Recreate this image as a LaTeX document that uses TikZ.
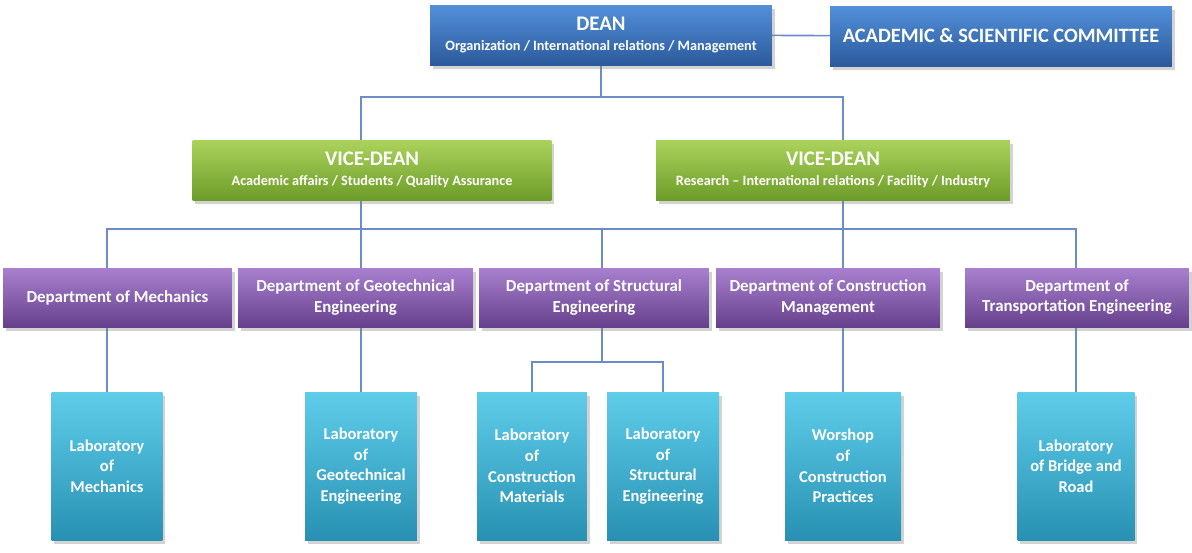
\documentclass[tikz,border=0pt]{standalone}
\usepackage{fontspec}
\setmainfont{Carlito}
\usetikzlibrary{shadows,backgrounds}

\definecolor{deantop}{HTML}{5290DA}
\definecolor{deanmid}{HTML}{3B73C0}
\definecolor{deanbot}{HTML}{2C5A9C}
\definecolor{vicetop}{HTML}{ABD35C}
\definecolor{vicemid}{HTML}{8DBF3B}
\definecolor{vicebot}{HTML}{6C9C28}
\definecolor{deptop}{HTML}{A880CF}
\definecolor{depmid}{HTML}{8B5FB6}
\definecolor{depbot}{HTML}{66408D}
\definecolor{labtop}{HTML}{5FCDEA}
\definecolor{labmid}{HTML}{3BB4DA}
\definecolor{labbot}{HTML}{2891B3}
\definecolor{wire}{HTML}{6C8CC6}

\tikzset{
    box/.style={rectangle, inner sep=0pt, outer sep=0pt, align=center,
        text=white, font=\bfseries,
        drop shadow={opacity=0.35, shadow xshift=1.5pt, shadow yshift=-2pt}},
    deanbox/.style={box, top color=deantop, middle color=deanmid, bottom color=deanbot},
    vicebox/.style={box, top color=vicetop, middle color=vicemid, bottom color=vicebot,
        minimum height=1.2cm},
    depbox/.style={box, top color=deptop, middle color=depmid, bottom color=depbot,
        minimum height=1.18cm, font=\bfseries\fontsize{9.6}{11.4}\selectfont},
    labbox/.style={box, top color=labtop, middle color=labmid, bottom color=labbot,
        minimum height=2.96cm, font=\bfseries\fontsize{9.4}{11.7}\selectfont},
    wires/.style={draw=wire, line width=0.9pt}
}

\newcommand{\headline}[2]{{\fontsize{11.8}{13}\selectfont #1}\\[-0.5pt]{\fontsize{8.1}{9.5}\selectfont #2}}

\begin{document}
\begin{tikzpicture}[x=0.02cm, y=-0.02cm]
    \useasboundingbox (0,0) rectangle (1192,552);

    % top level
    \node [deanbox, minimum width=6.84cm, minimum height=1.2cm] (dean) at (601,35)
        {\headline{DEAN}{Organization / International relations / Management}};
    \node [deanbox, minimum width=6.84cm, minimum height=1.2cm,
        font=\bfseries\fontsize{11.6}{13}\selectfont] (comm) at (1001,36)
        {ACADEMIC \& SCIENTIFIC COMMITTEE};

    \node [vicebox, minimum width=7.18cm] (vd1) at (372,170)
        {\headline{VICE-DEAN}{Academic affairs / Students / Quality Assurance}};
    \node [vicebox, minimum width=7.08cm] (vd2) at (833,170)
        {\headline{VICE-DEAN}{Research -- International relations / Facility / Industry}};

    % departments
    \node [depbox, minimum width=4.58cm] (dep1) at (117.5,297.5) {Department of Mechanics};
    \node [depbox, minimum width=4.70cm] (dep2) at (355.5,297.5) {Department of Geotechnical\\Engineering};
    \node [depbox, minimum width=4.60cm] (dep3) at (594,297.5) {Department of Structural\\Engineering};
    \node [depbox, minimum width=4.48cm] (dep4) at (828,297.5) {Department of Construction\\Management};
    \node [depbox, minimum width=4.48cm] (dep5) at (1077,297.5) {Department of\\Transportation Engineering};

    % laboratories
    \node [labbox, minimum width=2.22cm] (lab1) at (107,466) {Laboratory\\of\\Mechanics};
    \node [labbox, minimum width=2.24cm] (lab2) at (361,466) {Laboratory\\of\\Geotechnical\\Engineering};
    \node [labbox, minimum width=2.20cm] (lab3) at (532,466) {Laboratory\\of\\Construction\\Materials};
    \node [labbox, minimum width=2.24cm] (lab4) at (663,466) {Laboratory\\of\\Structural\\Engineering};
    \node [labbox, minimum width=2.32cm] (lab5) at (843,466) {Worshop\\of\\Construction\\Practices};
    \node [labbox, minimum width=2.34cm] (lab6) at (1076,466) {Laboratory\\of Bridge and\\Road};

    \coordinate (bus1) at (601,97);
    \coordinate (bus2) at (602,229);
    \coordinate (split) at (602,362);

    \begin{scope}[on background layer]
        \draw [wires] (dean) -- (comm);
        \draw [wires] (dean) -- (bus1);
        \draw [wires] (lab2) |- (bus1) -| (lab5);
        \draw [wires] (lab1) |- (bus2) -| (lab6);
        \draw [wires] (bus2) -- (split);
        \draw [wires] (lab3) |- (split) -| (lab4);
    \end{scope}
\end{tikzpicture}
\end{document}
